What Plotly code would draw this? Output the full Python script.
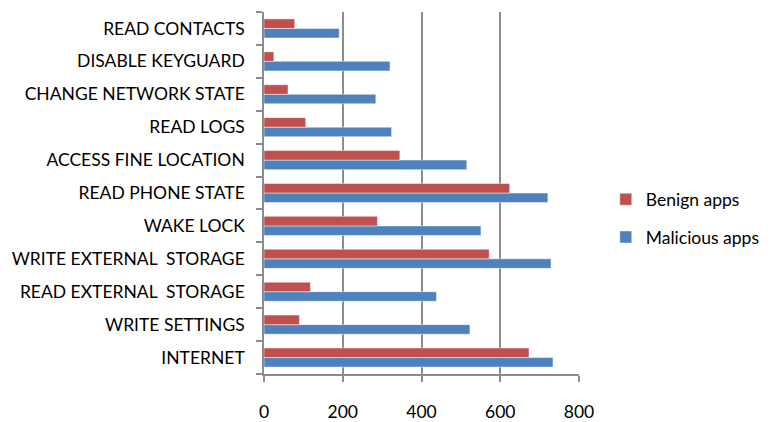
import plotly.graph_objects as go

categories = ["INTERNET", "WRITE SETTINGS", "READ EXTERNAL  STORAGE", "WRITE EXTERNAL  STORAGE",
              "WAKE LOCK", "READ PHONE STATE", "ACCESS FINE LOCATION", "READ LOGS",
              "CHANGE NETWORK STATE", "DISABLE KEYGUARD", "READ CONTACTS"]
malicious = [734, 523, 438, 729, 551, 721, 515, 324, 284, 320, 191]
benign = [673, 90, 118, 572, 288, 624, 345, 106, 61, 25, 78]
x_ticks = [0, 200, 400, 600, 800]

FONT = "Lato"
fig = go.Figure()
fig.add_trace(go.Bar(y=categories, x=malicious, orientation="h", name="Malicious apps",
                     legendgroup="m", legendrank=2,
                     marker=dict(color="#4F81BD", line=dict(color="rgba(255,255,255,0.6)", width=0.8))))
fig.add_trace(go.Bar(y=categories, x=benign, orientation="h", name="Benign apps",
                     legendgroup="b", legendrank=1,
                     marker=dict(color="#C0504D", line=dict(color="rgba(255,255,255,0.6)", width=0.8))))

fig.update_layout(
    width=774, height=422,
    margin=dict(l=264, r=195, t=12, b=48, autoexpand=False),
    plot_bgcolor="white", paper_bgcolor="white",
    barmode="group", bargap=0.42, bargroupgap=0,
    font=dict(family=FONT, size=17.5, color="#000000"),
    showlegend=True,
    legend=dict(traceorder="grouped", x=1.085, y=0.43, xanchor="left", yanchor="middle",
                font=dict(family=FONT, size=17.5, color="#000000"), itemwidth=30,
                tracegroupgap=12, bgcolor="rgba(0,0,0,0)"),
)
fig.update_xaxes(range=[0, 800], tickvals=x_ticks, ticktext=[str(v) for v in x_ticks],
                 showgrid=True, gridcolor="#8C8C8C", gridwidth=1.5,
                 showline=True, linecolor="#8C8C8C", linewidth=1.5,
                 ticks="outside", ticklen=6, tickcolor="#8C8C8C", tickwidth=1.5,
                 ticklabelstandoff=15, zeroline=False, automargin=False)
fig.update_yaxes(type="category", categoryorder="array", categoryarray=categories,
                 showgrid=False, showline=True, linecolor="#8C8C8C", linewidth=1.5,
                 ticks="outside", ticklen=6, tickcolor="#8C8C8C", tickwidth=1.5,
                 tickson="boundaries", ticklabelstandoff=14, automargin=False)

fig.write_html("out.html")
